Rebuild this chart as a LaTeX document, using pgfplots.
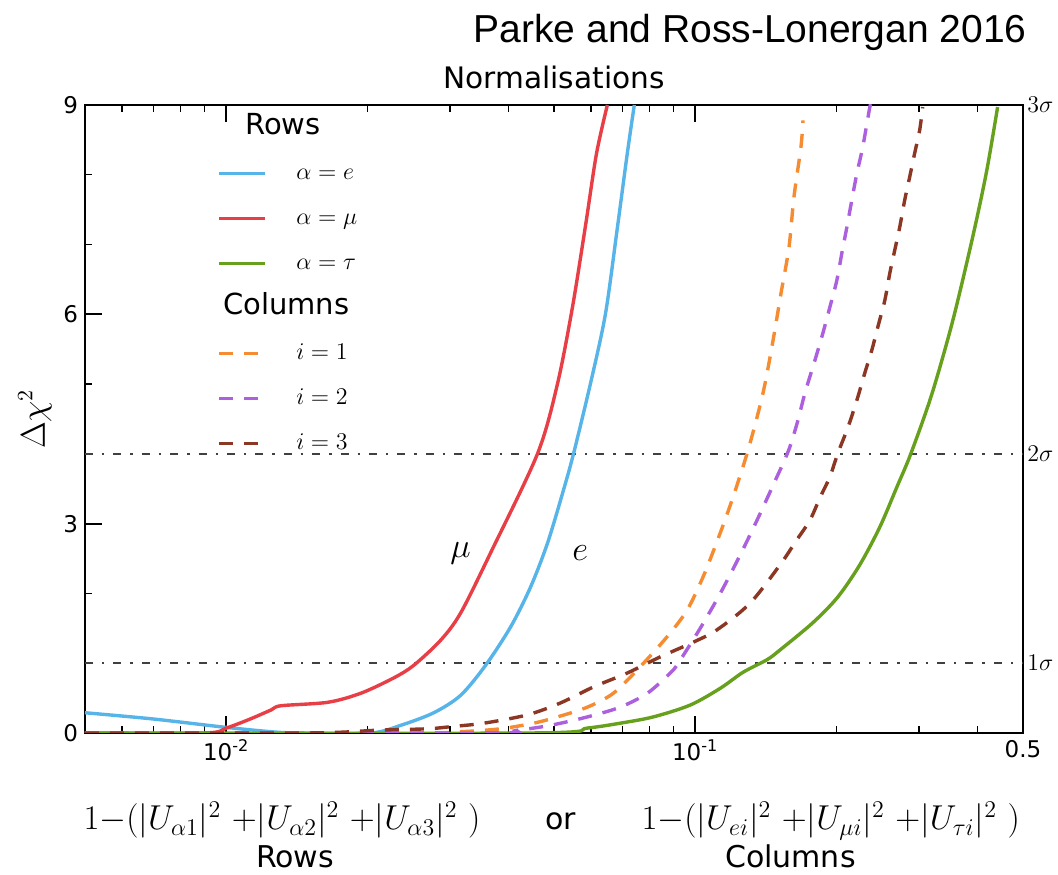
\documentclass[border=0pt]{standalone}
\usepackage{pgfplots}
\pgfplotsset{compat=1.18}
\usepackage{fontspec}
\setmainfont{DejaVu Sans}
\newfontfamily\titlefont{Liberation Sans}

\definecolor{rowe}{RGB}{86,180,233}
\definecolor{rowmu}{RGB}{232,62,70}
\definecolor{rowtau}{RGB}{102,160,28}
\definecolor{colone}{RGB}{245,140,50}
\definecolor{coltwo}{RGB}{172,96,222}
\definecolor{colthree}{RGB}{140,55,35}

\begin{document}
\begin{tikzpicture}
\begin{axis}[
    scale only axis, width=469pt, height=314pt,
    xmode=log, xmin=0.005, xmax=0.5, ymin=0, ymax=9,
    xtick={0.01,0.1}, xticklabels={10\textsuperscript{-2},10\textsuperscript{-1}},
    extra x ticks={0.5}, extra x tick labels={0.5},
    extra x tick style={major tick length=0pt},
    minor xtick={0.006,0.007,0.008,0.009,0.02,0.03,0.04,0.05,0.06,0.07,0.08,0.09,0.2,0.3,0.4},
    ytick={0,3,6,9}, minor ytick={1,2,4,5,7,8},
    xtick pos=both, ytick pos=left,
    tick align=inside,
    major tick length=8.5pt, minor tick length=3.5pt,
    every major tick/.style={line width=1.1pt, black},
    every minor tick/.style={line width=0.7pt, black},
    axis line style={line width=0.8pt},
    tick label style={font=\fontsize{11.5}{13}\selectfont},
    /pgf/number format/assume math mode=true,
    ylabel={$\Delta\chi^2$},
    ylabel style={at={(axis description cs:-0.0533,0.5)}, anchor=center,
        font=\fontsize{16}{18}\selectfont},
    clip mode=individual,
    every axis plot/.append style={smooth, tension=0.5},
    legend cell align=left,
    legend image code/.code={\draw[#1, sharp plot] (0cm,0cm) -- (0.8cm,0cm);},
    legend style={at={(axis description cs:0.1407,0.985)}, anchor=north west,
        draw=none, fill=none, inner sep=0pt, row sep=9pt, column sep=15pt,
        nodes={inner sep=0pt, text height=10pt, text depth=3.5pt},
        font=\fontsize{13}{15}\selectfont},
]
% 1 sigma and 2 sigma levels
\addplot[forget plot, sharp plot, black!75, line width=1.1pt, dash pattern=on 4pt off 4.5pt on 1.2pt off 4.5pt]
    coordinates {(0.005,1) (0.5,1)};
\addplot[forget plot, sharp plot, black!75, line width=1.1pt, dash pattern=on 4pt off 4.5pt on 1.2pt off 4.5pt]
    coordinates {(0.005,4) (0.5,4)};

\addlegendimage{empty legend}
\addlegendentry{\hspace*{-25.5pt}\fontsize{14.5}{16}\selectfont Rows}

\addplot[color=rowe, line width=1.7pt] coordinates {
    (0.005,0.29) (0.007,0.20) (0.01,0.08) (0.0129,0.01) (0.015,0.0) (0.0204,0.0)
    (0.02357,0.11) (0.02771,0.29) (0.03162,0.54) (0.03574,0.97) (0.04041,1.52)
    (0.04456,2.09) (0.04843,2.72) (0.05238,3.48) (0.05502,4.0) (0.05977,5.0)
    (0.06435,6.0) (0.06813,7.2) (0.07164,8.3) (0.07417,9.0)
};
\addlegendentry{$\alpha=e$}
\addplot[color=rowmu, line width=1.7pt] coordinates {
    (0.005,0.0) (0.009,0.0) (0.01,0.07) (0.01125,0.2) (0.01247,0.33) (0.01309,0.39)
    (0.01648,0.44) (0.01938,0.57) (0.02278,0.79) (0.02512,0.97) (0.02867,1.33)
    (0.03162,1.72) (0.03662,2.58) (0.0461,4.0) (0.05085,5.0)
    (0.05474,6.1) (0.05846,7.3) (0.06159,8.3) (0.06498,9.0)
};
\addlegendentry{$\alpha=\mu$}
\addplot[color=rowtau, line width=1.7pt] coordinates {
    (0.005,0.0) (0.045,0.0) (0.0589,0.07) (0.0692,0.14) (0.0814,0.23) (0.0976,0.4)
    (0.1131,0.64) (0.1265,0.87) (0.1423,1.05) (0.1517,1.19) (0.1782,1.58)
    (0.2015,1.95) (0.2244,2.41) (0.2475,2.95) (0.269,3.52) (0.2882,4.0)
    (0.3194,4.85) (0.3539,5.9) (0.3904,7.1) (0.4182,8.05) (0.4414,8.97)
};
\addlegendentry{$\alpha=\tau$}

\addlegendimage{empty legend}
\addlegendentry{\hspace*{-36.5pt}\fontsize{14.5}{16}\selectfont Columns}

\addplot[color=colone, line width=1.7pt, dash pattern=on 7pt off 5.5pt] coordinates {
    (0.005,0.0) (0.025,0.0) (0.032,0.02) (0.03847,0.06) (0.04522,0.14) (0.05085,0.23)
    (0.0589,0.37) (0.06694,0.57) (0.07638,0.95) (0.08716,1.38) (0.0961,1.76)
    (0.104,2.24) (0.1114,2.75) (0.1193,3.3) (0.1296,4.05) (0.1395,4.87)
    (0.1466,5.63) (0.1524,6.3) (0.1585,6.96) (0.1624,7.68) (0.1681,8.4) (0.1698,8.78)
};
\addlegendentry{$i=1$}
\addplot[color=coltwo, line width=1.7pt, dash pattern=on 7pt off 5.5pt] coordinates {
    (0.005,0.0) (0.035,0.0) (0.04182,0.04) (0.04914,0.11) (0.0589,0.23) (0.0692,0.37)
    (0.0791,0.57) (0.0885,0.86) (0.092,1.0) (0.1025,1.5) (0.1131,2.0) (0.1247,2.55)
    (0.1355,3.05) (0.1466,3.55) (0.1582,4.05) (0.1656,4.48) (0.1714,4.87) (0.18,5.34)
    (0.1872,5.73) (0.1937,6.1) (0.2005,6.49) (0.2055,6.88) (0.2106,7.25)
    (0.2158,7.64) (0.2212,8.02) (0.2277,8.4) (0.2357,8.97) (0.237,9.0)
};
\addlegendentry{$i=2$}
\addplot[color=colthree, line width=1.7pt, dash pattern=on 7pt off 5.5pt] coordinates {
    (0.005,0.0) (0.015,0.0) (0.0211,0.04) (0.0269,0.06) (0.0301,0.09) (0.0354,0.14)
    (0.0439,0.26) (0.0516,0.43) (0.0607,0.66) (0.0717,0.86) (0.0842,1.09)
    (0.099,1.3) (0.1114,1.48) (0.1309,1.86) (0.1517,2.41) (0.1648,2.77)
    (0.1757,3.05) (0.1845,3.37) (0.1937,3.67) (0.2015,4.01) (0.2117,4.38)
    (0.2212,4.77) (0.23,5.16) (0.2381,5.49) (0.2452,5.82) (0.2537,6.2) (0.26,6.59)
    (0.2664,6.92) (0.273,7.25) (0.2798,7.64) (0.2867,7.97) (0.2938,8.31)
    (0.3011,8.64) (0.3056,8.97)
};
\addlegendentry{$i=3$}

% curve labels
\node[font=\fontsize{18}{20}\selectfont] at (axis cs:0.0316,2.58) {$\mu$};
\node[font=\fontsize{18}{20}\selectfont] at (axis cs:0.0569,2.58) {$e$};

% sigma labels on the right
\node[anchor=west, font=\fontsize{12}{14}\selectfont, inner sep=2pt] at (axis cs:0.5,9) {$3\sigma$};
\node[anchor=west, font=\fontsize{12}{14}\selectfont, inner sep=2pt] at (axis cs:0.5,4) {$2\sigma$};
\node[anchor=west, font=\fontsize{12}{14}\selectfont, inner sep=2pt] at (axis cs:0.5,1) {$1\sigma$};

% titles
\node[anchor=base east, inner sep=0pt, font=\titlefont\fontsize{19.5}{22}\selectfont]
    at (rel axis cs:1,1) [xshift=2pt, yshift=31pt] {Parke and Ross-Lonergan 2016};
\node[anchor=base, inner sep=0pt, font=\fontsize{14.8}{17}\selectfont]
    at (rel axis cs:0.5,1) [yshift=8pt] {Normalisations};

% x axis description
\node[anchor=base, inner sep=0pt, font=\fontsize{16.5}{18}\selectfont]
    at (rel axis cs:0.21,0) [yshift=-48.5pt]
    {$1{-}(|U_{\alpha 1}|^2\ {+}|U_{\alpha 2}|^2\ {+}|U_{\alpha 3}|^2\ )$};
\node[anchor=base, inner sep=0pt, font=\fontsize{15}{17}\selectfont]
    at (rel axis cs:0.507,0) [yshift=-48.5pt] {or};
\node[anchor=base, inner sep=0pt, font=\fontsize{16.5}{18}\selectfont]
    at (rel axis cs:0.795,0) [yshift=-48.5pt]
    {$1{-}(|U_{ei}|^2\ {+}|U_{\mu i}|^2\ {+}|U_{\tau i}|^2\ )$};
\node[anchor=base, inner sep=0pt, font=\fontsize{15}{17}\selectfont]
    at (rel axis cs:0.224,0) [yshift=-67.5pt] {Rows};
\node[anchor=base, inner sep=0pt, font=\fontsize{15}{17}\selectfont]
    at (rel axis cs:0.752,0) [yshift=-67.5pt] {Columns};
\end{axis}
\path (current axis.south west) ++(-42.5pt,-71pt) rectangle ([xshift=17.5pt,yshift=52.5pt]current axis.north east);
\end{tikzpicture}
\end{document}
